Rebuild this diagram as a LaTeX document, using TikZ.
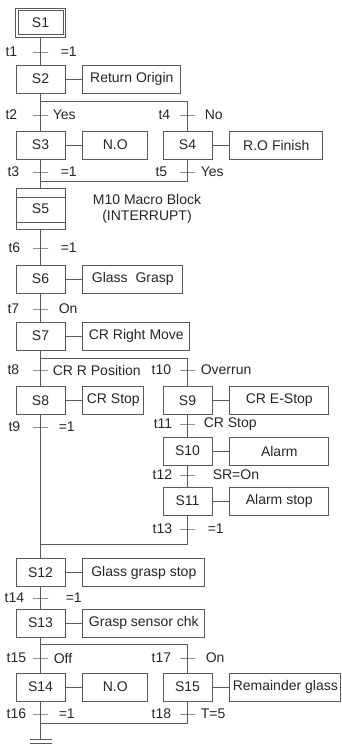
\documentclass[tikz,border=0pt]{standalone}
\usepackage{fontspec}
\setmainfont{Liberation Sans}
\usetikzlibrary{positioning}

\begin{document}
\begin{tikzpicture}[
  x=1pt, y=-1pt, line width=0.8pt,
  every node/.style={font=\fontsize{14}{16}\selectfont, text=black!85},
  stepbox/.style={rectangle, draw=black!65, minimum width=49pt,
                  minimum height=28pt, inner sep=0pt},
  actbox/.style={rectangle, draw=black!65, minimum height=28pt, inner sep=1pt},
  trans/.style={rectangle, draw=black!65, minimum width=15pt,
                minimum height=0pt, inner sep=0pt},
  lbl/.style={inner sep=0pt},
  wire/.style={draw=black!65}
]
  \useasboundingbox (0,0) rectangle (341,747);

  %--- STEPS ---
  % Initial step
  \node[stepbox, minimum width=50pt, minimum height=29pt] (S1) at (40.5,22.5) {S1};
  \draw[wire] ([shift={(3pt,-3pt)}]S1.north west) rectangle ([shift={(-3pt,3pt)}]S1.south east);
  % Left column
  \foreach \s/\y in {2/79, 3/145, 6/279, 7/336, 8/400.5, 12/572.5, 13/623, 14/687}{
    \node[stepbox] (S\s) at (40.5,\y) {S\s};
  }
  % Right column
  \foreach \s/\y in {4/145, 9/400.5, 10/451, 11/501, 15/687}{
    \node[stepbox] (S\s) at (187.5,\y) {S\s};
  }
  % Macro step
  \node[stepbox, minimum height=41pt] (S5) at (40.5,208.5) {S5};
  \draw[wire] ([yshift=-10pt]S5.north west) -- ([yshift=-10pt]S5.north east);
  \draw[wire] ([yshift=7pt]S5.south west) -- ([yshift=7pt]S5.south east);
  \node[align=center] (macro) at (147,209) {M10 Macro Block\\(INTERRUPT)};

  %--- ACTIONS ---
  \foreach \s/\w/\txt in {2/98/Return Origin, 3/65/N.O, 4/93/R.O Finish,
      6/100/Glass\ \ Grasp, 7/107/CR Right Move, 8/61/CR Stop,
      9/99/CR E-Stop, 10/99/Alarm, 11/99/Alarm stop,
      12/122/Glass grasp stop, 13/122/Grasp sensor chk,
      14/65/N.O, 15/111/Remainder glass}{
    \node[actbox, minimum width=\w pt, right=17pt of S\s] (a\s) {\txt};
    \draw[wire] (S\s) -- (a\s);
  }

  %--- TRANSITIONS ---
  \foreach \t/\x/\y in {1/40.5/52, 2/40.5/115, 3/40.5/172, 6/40.5/248,
      7/40.5/309, 8/40.5/370, 9/40.5/427, 14/40.5/598, 15/40.5/658,
      16/40.5/714, 4/187.5/115, 5/187.5/172, 10/187.5/370, 11/187.5/424,
      12/187.5/475, 13/187.5/529, 17/187.5/658, 18/187.5/714}{
    \node[trans] (t\t) at (\x,\y) {};
  }
  % Labels
  \foreach \t/\dl/\r/\dr in {1/15/=1/12, 2/15/Yes/4, 4/9/No/9, 3/13/=1/12,
      5/12/Yes/5, 6/12/=1/12, 7/13/On/10, 8/13/CR R Position/4,
      10/8/Overrun/5, 9/12/=1/10, 11/7/CR Stop/8, 12/7/SR=On/17,
      13/7/=1/12, 14/8/=1/17, 15/6/Off/5, 17/8/On/10, 16/6/=1/10,
      18/8/T=5/5}{
    \node[lbl, left=\dl pt of t\t] (lt\t) {t\t};
    \node[lbl, right=\dr pt of t\t] (rt\t) {\r};
  }

  %--- LINKS ---
  \draw[wire] (S1) -- (t1) -- (S2);
  % Branch after S2
  \coordinate (dv1) at (187.5,101);
  \draw[wire] (S2) -- (t2) -- (S3);
  \draw[wire] (S2.south |- dv1) -- (dv1) -- (t4) -- (S4);
  \coordinate (cv1) at (187.5,181);
  \draw[wire] (S3) -- (t3) -- (S5);
  \draw[wire] (S4) -- (t5) -- (cv1) -- (S5.north |- cv1);
  \draw[wire] (S5) -- (t6) -- (S6);
  \draw[wire] (S6) -- (t7) -- (S7);
  % Branch after S7
  \coordinate (dv2) at (187.5,358);
  \draw[wire] (S7) -- (t8) -- (S8);
  \draw[wire] (S7.south |- dv2) -- (dv2) -- (t10) -- (S9);
  \draw[wire] (S9) -- (t11) -- (S10);
  \draw[wire] (S10) -- (t12) -- (S11);
  \coordinate (cv2) at (187.5,544);
  \draw[wire] (S8) -- (t9) -- (S12);
  \draw[wire] (S11) -- (t13) -- (cv2) -- (S12.north |- cv2);
  \draw[wire] (S12) -- (t14) -- (S13);
  % Branch after S13
  \coordinate (dv3) at (187.5,644);
  \draw[wire] (S13) -- (t15) -- (S14);
  \draw[wire] (S13.south |- dv3) -- (dv3) -- (t17) -- (S15);
  % End
  \coordinate (gnd) at (40.5,739);
  \coordinate (cv3) at (187.5,723);
  \draw[wire] (S14) -- (t16) -- (gnd);
  \draw[wire] (S15) -- (t18) -- (cv3) -- (gnd |- cv3);
  \draw[wire] ([xshift=-11pt]gnd) -- ([xshift=11pt]gnd);
  \draw[wire] ([xshift=-11pt,yshift=-4pt]gnd) -- ([xshift=11pt,yshift=-4pt]gnd);

\end{tikzpicture}
\end{document}
